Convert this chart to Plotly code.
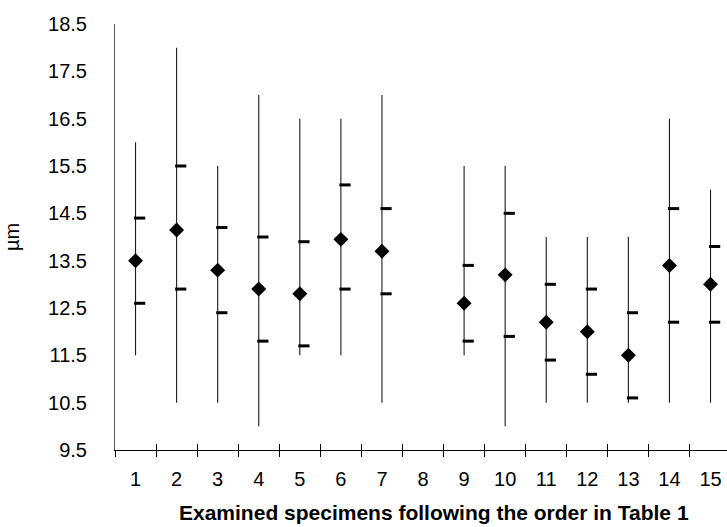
import plotly.graph_objects as go

# ---- data ----
labels = ["1", "2", "3", "4", "5", "6", "7", "8", "9", "10", "11", "12", "13", "14", "15"]
mean_vals = [13.5, 14.15, 13.3, 12.9, 12.8, 13.95, 13.7, None, 12.6, 13.2, 12.2, 12.0, 11.5, 13.4, 13.0]
max_vals = [16.0, 18.0, 15.5, 17.0, 16.5, 16.5, 17.0, None, 15.5, 15.5, 14.0, 14.0, 14.0, 16.5, 15.0]
min_vals = [11.5, 10.5, 10.5, 10.0, 11.5, 11.5, 10.5, None, 11.5, 10.0, 10.5, 10.5, 10.5, 10.5, 10.5]
upper_vals = [14.4, 15.5, 14.2, 14.0, 13.9, 15.1, 14.6, None, 13.4, 14.5, 13.0, 12.9, 12.4, 14.6, 13.8]
lower_vals = [12.6, 12.9, 12.4, 11.8, 11.7, 12.9, 12.8, None, 11.8, 11.9, 11.4, 11.1, 10.6, 12.2, 12.2]
y_ticks = [9.5, 10.5, 11.5, 12.5, 13.5, 14.5, 15.5, 16.5, 17.5, 18.5]
x_title = "Examined specimens following the order in Table 1"
y_title = "µm"

FONT = "Liberation Sans, Arial, sans-serif"
pos = list(range(1, len(labels) + 1))
bounds = [p - 0.5 for p in pos]
dash_offset = 0.1

err_plus = [None if m is None else mx - m for m, mx in zip(mean_vals, max_vals)]
err_minus = [None if m is None else m - mn for m, mn in zip(mean_vals, min_vals)]

fig = go.Figure()

# range bars (min..max) with mean diamonds
fig.add_trace(go.Scatter(
    x=pos, y=mean_vals, mode="markers",
    marker=dict(symbol="diamond", size=11.5, color="black"),
    error_y=dict(type="data", symmetric=False, array=err_plus, arrayminus=err_minus,
                 color="#1a1a1a", thickness=1.1, width=0),
    showlegend=False, hoverinfo="skip"))

# upper / lower dashes to the right of each line
dash_x = [p + dash_offset for p in pos]
for vals in (upper_vals, lower_vals):
    fig.add_trace(go.Scatter(
        x=dash_x, y=vals, mode="markers",
        marker=dict(symbol="line-ew", size=8, line=dict(width=3, color="black")),
        showlegend=False, hoverinfo="skip"))

# invisible trace for the overlay axis (inner half of crossing ticks)
fig.add_trace(go.Scatter(x=[None], y=[None], xaxis="x2", showlegend=False, hoverinfo="skip"))

xr = [0.5, 0.5 + 612 / 41.07]

fig.update_layout(
    width=727, height=527,
    margin=dict(l=115, r=0, t=24, b=77),
    paper_bgcolor="white", plot_bgcolor="white",
    font=dict(family=FONT, size=20, color="black"),
    xaxis=dict(
        range=xr, tickmode="array", tickvals=pos, ticktext=labels, ticks="",
        showline=True, linecolor="black", linewidth=1, showgrid=False, zeroline=False,
        ticklabelstandoff=11, automargin=False,
        minor=dict(tickmode="array", tickvals=bounds, ticks="outside", ticklen=6,
                   tickcolor="black", tickwidth=1, showgrid=False),
    ),
    xaxis2=dict(
        range=xr, overlaying="x", anchor="y", side="bottom",
        tickmode="array", tickvals=bounds, ticks="inside", ticklen=6,
        tickcolor="black", tickwidth=1, showticklabels=False,
        showline=False, showgrid=False, zeroline=False, automargin=False,
    ),
    yaxis=dict(
        range=[9.5, 18.5], tickmode="array", tickvals=y_ticks,
        ticktext=[f"{v:.1f}" for v in y_ticks], ticks="",
        showline=True, linecolor="#555555", linewidth=1, showgrid=False, zeroline=False,
        ticklabelstandoff=23, automargin=False,
        title=dict(text=y_title, font=dict(family=FONT, size=20), standoff=23),
    ),
    annotations=[dict(
        text=f"<b>{x_title}</b>", xref="paper", yref="paper",
        x=0.521, y=-0.147, xanchor="center", yanchor="middle", showarrow=False,
        font=dict(family=FONT, size=21, color="black"))],
)

fig.write_html("out.html",
               config={"displayModeBar": False},
               post_script="document.body.style.margin='0';document.body.style.overflow='hidden';")
